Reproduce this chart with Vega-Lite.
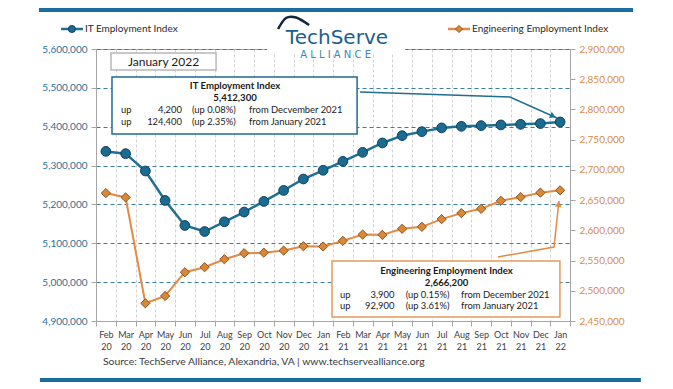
{
  "$schema": "https://vega.github.io/schema/vega-lite/v6.json",
  "width": 474,
  "height": 272,
  "autosize": {"type": "none"},
  "padding": {"left": 96, "top": 49, "right": 103, "bottom": 68},
  "background": "white",
  "config": {
    "view": {"stroke": "#a6a6a6"},
    "font": "Lato",
    "text": {"font": "Lato"}
  },
  "datasets": {
    "series": [
      {"m": "Feb 20", "it": 5336500, "eng": 2661600},
      {"m": "Mar 20", "it": 5330600, "eng": 2654400},
      {"m": "Apr 20", "it": 5286000, "eng": 2479300},
      {"m": "May 20", "it": 5210200, "eng": 2491400},
      {"m": "Jun 20", "it": 5145800, "eng": 2530700},
      {"m": "Jul 20", "it": 5130300, "eng": 2539000},
      {"m": "Aug 20", "it": 5155300, "eng": 2552200},
      {"m": "Sep 20", "it": 5180300, "eng": 2562200},
      {"m": "Oct 20", "it": 5207700, "eng": 2563000},
      {"m": "Nov 20", "it": 5236000, "eng": 2566500},
      {"m": "Dec 20", "it": 5265400, "eng": 2573800},
      {"m": "Jan 21", "it": 5287900, "eng": 2573300},
      {"m": "Feb 21", "it": 5310800, "eng": 2582600},
      {"m": "Mar 21", "it": 5334000, "eng": 2593000},
      {"m": "Apr 21", "it": 5358200, "eng": 2592500},
      {"m": "May 21", "it": 5377000, "eng": 2602500},
      {"m": "Jun 21", "it": 5387300, "eng": 2605800},
      {"m": "Jul 21", "it": 5396900, "eng": 2618500},
      {"m": "Aug 21", "it": 5401000, "eng": 2628500},
      {"m": "Sep 21", "it": 5402800, "eng": 2635600},
      {"m": "Oct 21", "it": 5404600, "eng": 2648900},
      {"m": "Nov 21", "it": 5406100, "eng": 2655000},
      {"m": "Dec 21", "it": 5408100, "eng": 2662300},
      {"m": "Jan 22", "it": 5412300, "eng": 2666200}
    ],
    "boxes": [
      {"box": "jan", "q1": 0.76, "q2": 6.08, "v1": 5589700, "v2": 5545960},
      {"box": "it", "q1": 0.81, "q2": 13.22, "v1": 5527940, "v2": 5381250},
      {"box": "eng", "q1": 11.95, "q2": 23.49, "v1": 5054410, "v2": 4910300}
    ],
    "logobg": [
      {"q1": 8.66, "q2": 15.65, "v1": 5623160, "v2": 5591000}
    ],
    "bars": [
      {"bar": "top", "q1": -2.89, "q2": 27.19, "v": 5700370},
      {"bar": "bottom", "q1": -2.84, "q2": 27.59, "v": 4748160}
    ],
    "paths": [
      {"p": "it", "o": 1, "q": 13.37, "v": 5489340},
      {"p": "it", "o": 2, "q": 20.96, "v": 5476470},
      {"p": "it", "o": 3, "q": 23.34, "v": 5422430},
      {"p": "eng", "o": 1, "q": 20.35, "v": 5064710},
      {"p": "eng", "o": 2, "q": 23.19, "v": 5090440},
      {"p": "eng", "o": 3, "q": 23.44, "v": 5208820}
    ],
    "heads": [
      {"p": "it", "q": 23.14, "v": 5427580},
      {"p": "eng", "q": 23.42, "v": 5201100}
    ],
    "swoosh": [
      {"o": 1, "q": 9.22, "v": 5651470},
      {"o": 2, "q": 9.62, "v": 5679780},
      {"o": 3, "q": 10.13, "v": 5680990},
      {"o": 4, "q": 10.79, "v": 5661760}
    ],
    "legsym": [
      {"s": "IT", "q1": -1.77, "q2": -0.66, "qp": -1.22, "v": 5651470},
      {"s": "Eng", "q1": 17.82, "q2": 18.94, "qp": 18.38, "v": 5651470}
    ],
    "texts": [
      {"g": "hdr", "t": "IT Employment Index", "q": 7.04, "v": 5504780},
      {"g": "hdr", "t": "5,412,300", "q": 7.04, "v": 5473900},
      {"g": "hdr", "t": "Engineering Employment Index", "q": 17.75, "v": 5029450},
      {"g": "hdr", "t": "2,666,200", "q": 17.75, "v": 4998560},
      {"g": "left", "t": "up", "q": 1.27, "v": 5443000},
      {"g": "left", "t": "up", "q": 1.27, "v": 5413400},
      {"g": "right", "t": "4,200", "q": 4.35, "v": 5443000},
      {"g": "right", "t": "124,400", "q": 4.35, "v": 5413400},
      {"g": "left", "t": "(up 0.08%)", "q": 4.86, "v": 5443000},
      {"g": "left", "t": "(up 2.35%)", "q": 4.86, "v": 5413400},
      {"g": "left", "t": "from Decvember 2021", "q": 7.75, "v": 5443000},
      {"g": "left", "t": "from  January 2021", "q": 7.75, "v": 5413400},
      {"g": "left", "t": "up", "q": 12.35, "v": 4967690},
      {"g": "left", "t": "up", "q": 12.35, "v": 4939380},
      {"g": "right", "t": "3,900", "q": 15.11, "v": 4967690},
      {"g": "right", "t": "92,900", "q": 15.11, "v": 4939380},
      {"g": "left", "t": "(up  0.15%)", "q": 15.68, "v": 4967690},
      {"g": "left", "t": "(up  3.61%)", "q": 15.68, "v": 4939380},
      {"g": "left", "t": "from  December 2021", "q": 18.48, "v": 4967690},
      {"g": "left", "t": "from  January 2021", "q": 18.48, "v": 4939380},
      {"g": "jan", "t": "January 2022", "q": 3.42, "v": 5566540},
      {"g": "source", "t": "Source: TechServe Alliance, Alexandria, VA | www.techservealliance.org", "q": 0.35, "v": 4794490},
      {"g": "legend", "t": "IT Employment Index", "q": -0.56, "v": 5651470},
      {"g": "legend", "t": "Engineering Employment Index", "q": 19.04, "v": 5651470},
      {"g": "logo", "t": "TechServe", "q": 12.2, "v": 5612100},
      {"g": "alliance", "t": "A  L  L  I  A  N  C  E", "q": 12.13, "v": 5584560}
    ]
  },
  "resolve": {"scale": {"x": "independent", "y": "independent"}},
  "layer": [
    {
      "data": {"name": "series"},
      "encoding": {
        "x": {
          "field": "m",
          "type": "ordinal",
          "sort": null,
          "scale": {"paddingInner": 0, "paddingOuter": 0},
          "axis": {
            "title": null,
            "labelExpr": "isValid(datum.value) ? split(datum.value, ' ') : ''",
            "labelAngle": 0,
            "labelFont": "Lato",
            "labelFontSize": 9,
            "labelColor": "#404040",
            "labelLineHeight": 12,
            "labelPadding": 4,
            "tickBand": "extent",
            "tickSize": 5,
            "tickColor": "#a6a6a6",
            "domainColor": "#a6a6a6",
            "grid": true,
            "gridDash": [3, 2],
            "gridColor": "#d2d2d2"
          }
        }
      },
      "resolve": {"scale": {"y": "independent"}},
      "layer": [
        {
          "encoding": {
            "y": {
              "field": "it",
              "type": "quantitative",
              "scale": {"domain": [4900000, 5600000], "nice": false, "zero": false},
              "axis": {
                "orient": "left",
                "title": null,
                "values": [4900000, 5000000, 5100000, 5200000, 5300000, 5400000, 5500000, 5600000],
                "format": ",.0f",
                "labelFont": "Lato",
                "labelFontSize": 10,
                "labelColor": "#2d6f96",
                "labelPadding": 4,
                "tickSize": 5,
                "tickColor": "#a6a6a6",
                "domainColor": "#a6a6a6",
                "grid": true,
                "gridDash": [4, 3],
                "gridColor": "#3a7d9c",
                "gridWidth": 1
              }
            }
          },
          "layer": [
            {"mark": {"type": "line", "color": "#1f6e93", "strokeWidth": 2.5}},
            {"mark": {"type": "point", "shape": "circle", "filled": true, "size": 95, "fill": "#1b6b90", "stroke": "#0c4260", "strokeWidth": 1, "opacity": 1}}
          ]
        },
        {
          "encoding": {
            "y": {
              "field": "eng",
              "type": "quantitative",
              "scale": {"domain": [2450000, 2900000], "nice": false, "zero": false},
              "axis": {
                "orient": "right",
                "title": null,
                "values": [2450000, 2500000, 2550000, 2600000, 2650000, 2700000, 2750000, 2800000, 2850000, 2900000],
                "format": ",.0f",
                "labelFont": "Lato",
                "labelFontSize": 10,
                "labelColor": "#d98c47",
                "labelPadding": 4,
                "tickSize": 5,
                "tickColor": "#a6a6a6",
                "domainColor": "#a6a6a6",
                "grid": false
              }
            }
          },
          "layer": [
            {"mark": {"type": "line", "color": "#e38b45", "strokeWidth": 2}},
            {"mark": {"type": "point", "shape": "diamond", "filled": true, "size": 85, "fill": "#d98836", "stroke": "#8c5424", "strokeWidth": 1, "opacity": 1}}
          ]
        }
      ]
    },
    {
      "encoding": {
        "x": {"type": "quantitative", "scale": {"domain": [0, 24], "nice": false, "zero": false}, "axis": null},
        "y": {"type": "quantitative", "scale": {"domain": [4900000, 5600000], "nice": false, "zero": false}, "axis": null}
      },
      "layer": [
        {
          "data": {"name": "bars"},
          "mark": {"type": "rule", "color": "#1b6d9b", "strokeWidth": 4},
          "encoding": {"x": {"field": "q1", "type": "quantitative"}, "x2": {"field": "q2"}, "y": {"field": "v", "type": "quantitative"}}
        },
        {
          "data": {"name": "logobg"},
          "mark": {"type": "rect", "fill": "white"},
          "encoding": {"x": {"field": "q1", "type": "quantitative"}, "x2": {"field": "q2"}, "y": {"field": "v1", "type": "quantitative"}, "y2": {"field": "v2"}}
        },
        {
          "data": {"name": "swoosh"},
          "mark": {"type": "line", "color": "#13283d", "strokeWidth": 2.5, "interpolate": "cardinal"},
          "encoding": {"x": {"field": "q", "type": "quantitative"}, "y": {"field": "v", "type": "quantitative"}, "order": {"field": "o"}}
        },
        {
          "data": {"name": "boxes"},
          "transform": [{"filter": "datum.box != 'jan'"}],
          "mark": {"type": "rect", "fill": "#9a9a9a", "opacity": 0.45, "xOffset": 3, "yOffset": 3},
          "encoding": {"x": {"field": "q1", "type": "quantitative"}, "x2": {"field": "q2"}, "y": {"field": "v1", "type": "quantitative"}, "y2": {"field": "v2"}}
        },
        {
          "data": {"name": "boxes"},
          "mark": {"type": "rect", "fill": "white", "strokeWidth": 1.5},
          "encoding": {
            "x": {"field": "q1", "type": "quantitative"},
            "x2": {"field": "q2"},
            "y": {"field": "v1", "type": "quantitative"},
            "y2": {"field": "v2"},
            "stroke": {"field": "box", "type": "nominal", "scale": {"domain": ["jan", "it", "eng"], "range": ["#b8b8b8", "#1f6b8c", "#e69a5a"]}, "legend": null}
          }
        },
        {
          "data": {"name": "paths"},
          "mark": {"type": "line", "strokeWidth": 1.5},
          "encoding": {
            "x": {"field": "q", "type": "quantitative"},
            "y": {"field": "v", "type": "quantitative"},
            "order": {"field": "o"},
            "detail": {"field": "p"},
            "color": {"field": "p", "type": "nominal", "scale": {"domain": ["it", "eng"], "range": ["#1f6e93", "#e38b45"]}, "legend": null}
          }
        },
        {
          "data": {"name": "heads"},
          "transform": [{"filter": "datum.p == 'it'"}],
          "mark": {"type": "point", "shape": "triangle-right", "angle": 24, "size": 45, "filled": true, "fill": "#1f6e93", "opacity": 1},
          "encoding": {"x": {"field": "q", "type": "quantitative"}, "y": {"field": "v", "type": "quantitative"}}
        },
        {
          "data": {"name": "heads"},
          "transform": [{"filter": "datum.p == 'eng'"}],
          "mark": {"type": "point", "shape": "triangle-up", "angle": 6, "size": 45, "filled": true, "fill": "#e38b45", "opacity": 1},
          "encoding": {"x": {"field": "q", "type": "quantitative"}, "y": {"field": "v", "type": "quantitative"}}
        },
        {
          "data": {"name": "legsym"},
          "mark": {"type": "rule", "strokeWidth": 2.5},
          "encoding": {
            "x": {"field": "q1", "type": "quantitative"},
            "x2": {"field": "q2"},
            "y": {"field": "v", "type": "quantitative"},
            "color": {"field": "s", "type": "nominal", "scale": {"domain": ["IT", "Eng"], "range": ["#1f6e93", "#e38b45"]}, "legend": null}
          }
        },
        {
          "data": {"name": "legsym"},
          "transform": [{"filter": "datum.s == 'IT'"}],
          "mark": {"type": "point", "shape": "circle", "filled": true, "size": 50, "fill": "#1b6b90", "stroke": "#0c4260", "strokeWidth": 1, "opacity": 1},
          "encoding": {"x": {"field": "qp", "type": "quantitative"}, "y": {"field": "v", "type": "quantitative"}}
        },
        {
          "data": {"name": "legsym"},
          "transform": [{"filter": "datum.s == 'Eng'"}],
          "mark": {"type": "point", "shape": "diamond", "filled": true, "size": 50, "fill": "#d98836", "stroke": "#8c5424", "strokeWidth": 1, "opacity": 1},
          "encoding": {"x": {"field": "qp", "type": "quantitative"}, "y": {"field": "v", "type": "quantitative"}}
        },
        {
          "data": {"name": "texts"},
          "transform": [{"filter": "datum.g == 'hdr'"}],
          "mark": {"type": "text", "font": "Lato", "fontSize": 9.6, "fontWeight": "bold", "align": "center", "baseline": "middle", "color": "#1a1a1a"},
          "encoding": {"x": {"field": "q", "type": "quantitative"}, "y": {"field": "v", "type": "quantitative"}, "text": {"field": "t"}}
        },
        {
          "data": {"name": "texts"},
          "transform": [{"filter": "datum.g == 'left'"}],
          "mark": {"type": "text", "font": "Lato", "fontSize": 9.4, "align": "left", "baseline": "middle", "color": "#1a1a1a"},
          "encoding": {"x": {"field": "q", "type": "quantitative"}, "y": {"field": "v", "type": "quantitative"}, "text": {"field": "t"}}
        },
        {
          "data": {"name": "texts"},
          "transform": [{"filter": "datum.g == 'right'"}],
          "mark": {"type": "text", "font": "Lato", "fontSize": 9.4, "align": "right", "baseline": "middle", "color": "#1a1a1a"},
          "encoding": {"x": {"field": "q", "type": "quantitative"}, "y": {"field": "v", "type": "quantitative"}, "text": {"field": "t"}}
        },
        {
          "data": {"name": "texts"},
          "transform": [{"filter": "datum.g == 'jan'"}],
          "mark": {"type": "text", "font": "Lato", "fontSize": 12, "align": "center", "baseline": "middle", "color": "#1a1a1a"},
          "encoding": {"x": {"field": "q", "type": "quantitative"}, "y": {"field": "v", "type": "quantitative"}, "text": {"field": "t"}}
        },
        {
          "data": {"name": "texts"},
          "transform": [{"filter": "datum.g == 'source'"}],
          "mark": {"type": "text", "font": "Lato", "fontSize": 10.4, "align": "left", "baseline": "middle", "color": "#3a3a3a"},
          "encoding": {"x": {"field": "q", "type": "quantitative"}, "y": {"field": "v", "type": "quantitative"}, "text": {"field": "t"}}
        },
        {
          "data": {"name": "texts"},
          "transform": [{"filter": "datum.g == 'legend'"}],
          "mark": {"type": "text", "font": "Lato", "fontSize": 10, "align": "left", "baseline": "middle", "color": "#2a2a2a"},
          "encoding": {"x": {"field": "q", "type": "quantitative"}, "y": {"field": "v", "type": "quantitative"}, "text": {"field": "t"}}
        },
        {
          "data": {"name": "texts"},
          "transform": [{"filter": "datum.g == 'logo'"}],
          "mark": {"type": "text", "font": "DejaVu Sans", "fontSize": 20, "align": "center", "baseline": "alphabetic", "color": "#1d5e8c"},
          "encoding": {"x": {"field": "q", "type": "quantitative"}, "y": {"field": "v", "type": "quantitative"}, "text": {"field": "t"}}
        },
        {
          "data": {"name": "texts"},
          "transform": [{"filter": "datum.g == 'alliance'"}],
          "mark": {"type": "text", "font": "DejaVu Sans", "fontSize": 10, "align": "center", "baseline": "middle", "color": "#3a87b8"},
          "encoding": {"x": {"field": "q", "type": "quantitative"}, "y": {"field": "v", "type": "quantitative"}, "text": {"field": "t"}}
        }
      ]
    }
  ]
}
